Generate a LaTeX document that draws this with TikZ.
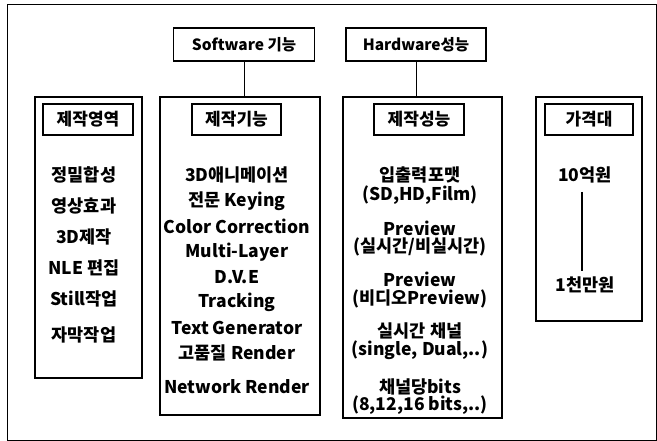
\documentclass[tikz,border=0pt]{standalone}
\usepackage{fontspec}
\setmainfont{Noto Sans CJK KR}
\begin{document}
\begin{tikzpicture}[x=1pt,y=-1pt,
  frame/.style={draw,line width=0.9pt},
  colbox/.style={draw,line width=1.1pt,inner sep=0pt},
  headbox/.style={draw,line width=1.2pt,inner sep=0pt,font=\bfseries\fontsize{17}{19}\selectfont},
  topbox/.style={draw,line width=1.2pt,inner sep=0pt,font=\bfseries\fontsize{15.5}{18}\selectfont},
  item/.style={inner sep=0pt,font=\bfseries\fontsize{17.5}{20}\selectfont},
  conn/.style={line width=1pt}]
\useasboundingbox (0,0) rectangle (657,441);
\draw[frame] (7,440) -- (7,4) -- (656,4) -- (656,440) -- cycle;
% top boxes
\node[topbox,minimum width=141pt,minimum height=33pt] (sw) at (244,44.5) {Software 기능};
\node[topbox,minimum width=140pt,minimum height=33pt] (hw) at (416,44.5) {Hardware성능};
% columns
\node[colbox,minimum width=107pt,minimum height=281pt] (c1) at (88.5,237.5) {};
\node[colbox,minimum width=160pt,minimum height=318pt] (c2) at (240,256) {};
\node[colbox,minimum width=159pt,minimum height=321pt] (c3) at (422.5,257.5) {};
\node[colbox,minimum width=106pt,minimum height=224pt] (c4) at (589,209) {};
\draw[conn] (sw.south) -- (sw.south |- c2.north);
\draw[conn] (hw.south) -- (hw.south |- c3.north);
% headers
\node[headbox,minimum width=90pt,minimum height=31pt] (h1) at (88,119.5) {제작영역};
\node[headbox,minimum width=89pt,minimum height=31pt] (h2) at (236.5,119.5) {제작기능};
\node[headbox,minimum width=90pt,minimum height=31pt] (h3) at (419,119.5) {제작성능};
\node[headbox,minimum width=88pt,minimum height=31pt] (h4) at (589,119.5) {가격대};
% column 1 items
\node[item] (a1) at (84,175) {정밀합성};
\node[item] (a2) at (84,206) {영상효과};
\node[item] (a3) at (84,237) {3D제작};
\node[item] (a4) at (84,268) {NLE 편집};
\node[item] (a5) at (84,299) {Still작업};
\node[item] (a6) at (84,335) {자막작업};
% column 2 items
\node[item] (b1) at (237,175) {3D애니메이션};
\node[item] (b2) at (237,201) {전문 Keying};
\node[item] (b3) at (237,226) {Color Correction};
\node[item] (b4) at (237,252) {Multi-Layer};
\node[item] (b5) at (237,277) {D.V.E};
\node[item] (b6) at (237,302) {Tracking};
\node[item] (b7) at (237,328) {Text Generator};
\node[item] (b8) at (237,353) {고품질 Render};
\node[item] (b9) at (237,387) {Network Render};
% column 3 items
\node[item] (d1) at (420,175) {입출력포맷};
\node[item] (d2) at (420,195) {(SD,HD,Film)};
\node[item] (d3) at (420,228) {Preview};
\node[item] (d4) at (420,247) {(실시간/비실시간)};
\node[item] (d5) at (420,279) {Preview};
\node[item] (d6) at (420,299) {(비디오Preview)};
\node[item] (d7) at (420,331) {실시간 채널};
\node[item] (d8) at (420,350) {(single, Dual,..)};
\node[item] (d9) at (420,387) {채널당bits};
\node[item] (d10) at (420,405) {(8,12,16 bits,..)};
% column 4
\node[item] (p1) at (585,175) {10억원};
\node[item] (p2) at (585,285) {1천만원};
\draw[line width=1.6pt] (582,192) -- (582,271);
\end{tikzpicture}
\end{document}
